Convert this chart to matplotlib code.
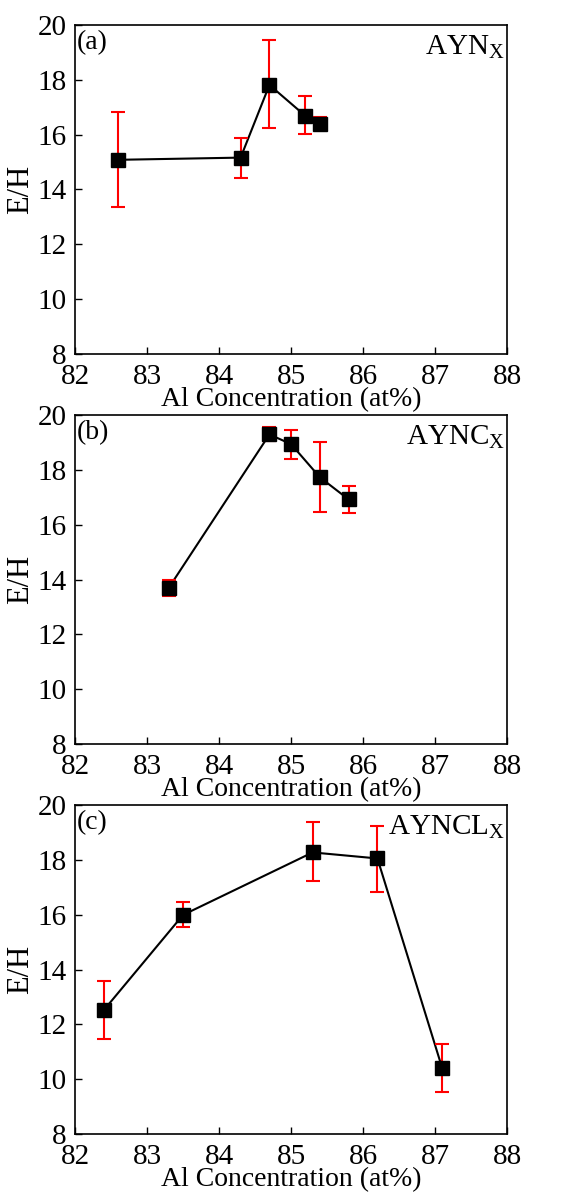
import matplotlib
matplotlib.use("Agg")
import matplotlib.pyplot as plt

plt.rcParams['font.family'] = ['Liberation Serif', 'DejaVu Serif']
plt.rcParams['mathtext.fontset'] = 'custom'
plt.rcParams['mathtext.rm'] = 'Liberation Serif'
plt.rcParams.update({'font.size': 20})

# (a) AYNx
x_a = [82.6, 84.3, 84.7, 85.2, 85.4]
y_a = [15.08, 15.16, 17.81, 16.68, 16.38]
lo_a = [13.35, 14.43, 16.23, 16.01, 16.17]
hi_a = [16.83, 15.89, 19.44, 17.39, 16.63]

# (b) AYNCx
x_b = [83.3, 84.7, 85.0, 85.4, 85.8]
y_b = [13.69, 19.29, 18.94, 17.73, 16.92]
lo_b = [13.40, 19.06, 18.40, 16.45, 16.41]
hi_b = [13.98, 19.55, 19.45, 19.00, 17.42]

# (c) AYNCLx
x_c = [82.4, 83.5, 85.3, 86.2, 87.1]
y_c = [12.52, 15.99, 18.27, 18.05, 10.40]
lo_c = [11.47, 15.55, 17.24, 16.81, 9.54]
hi_c = [13.59, 16.46, 19.37, 19.25, 11.27]

panels = [
    ('(a)', 'AYN', x_a, y_a, lo_a, hi_a),
    ('(b)', 'AYNC', x_b, y_b, lo_b, hi_b),
    ('(c)', 'AYNCL', x_c, y_c, lo_c, hi_c),
]

fig = plt.figure(figsize=(5.88, 11.97), dpi=100)
bottoms = [0.7043, 0.3784, 0.0526]

for (tag, name, x, y, lo, hi), b in zip(panels, bottoms):
    ax = fig.add_axes([0.1276, b, 0.7347, 0.2749])
    yerr = [[yy - l for yy, l in zip(y, lo)], [h - yy for yy, h in zip(y, hi)]]
    ax.plot(x, y, color='black', lw=1.5, zorder=2)
    ax.errorbar(x, y, yerr=yerr, fmt='none', ecolor='red', elinewidth=1.5,
                capsize=5, capthick=1.5, zorder=3)
    ax.plot(x, y, ls='none', marker='s', ms=10, color='black', zorder=4)
    ax.set_xlim(82, 88)
    ax.set_ylim(8, 20)
    ax.set_xticks(range(82, 89))
    ax.set_yticks(range(8, 21, 2))
    ax.tick_params(direction='in', length=5, width=1, labelsize=21)
    ax.tick_params(axis='x', pad=7)
    ax.tick_params(axis='y', pad=6)
    for s in ax.spines.values():
        s.set_linewidth(1.2)
    ax.set_xlabel('Al Concentration (at%)', fontsize=20, labelpad=-2)
    ax.set_ylabel('E/H', fontsize=22, labelpad=2)
    ax.text(0.005, 0.985, tag, transform=ax.transAxes, ha='left', va='top', fontsize=20)
    ax.text(0.995, 0.975, name + r'$_\mathregular{X}$', transform=ax.transAxes,
            ha='right', va='top', fontsize=21)

plt.savefig('out.png', dpi=100)
